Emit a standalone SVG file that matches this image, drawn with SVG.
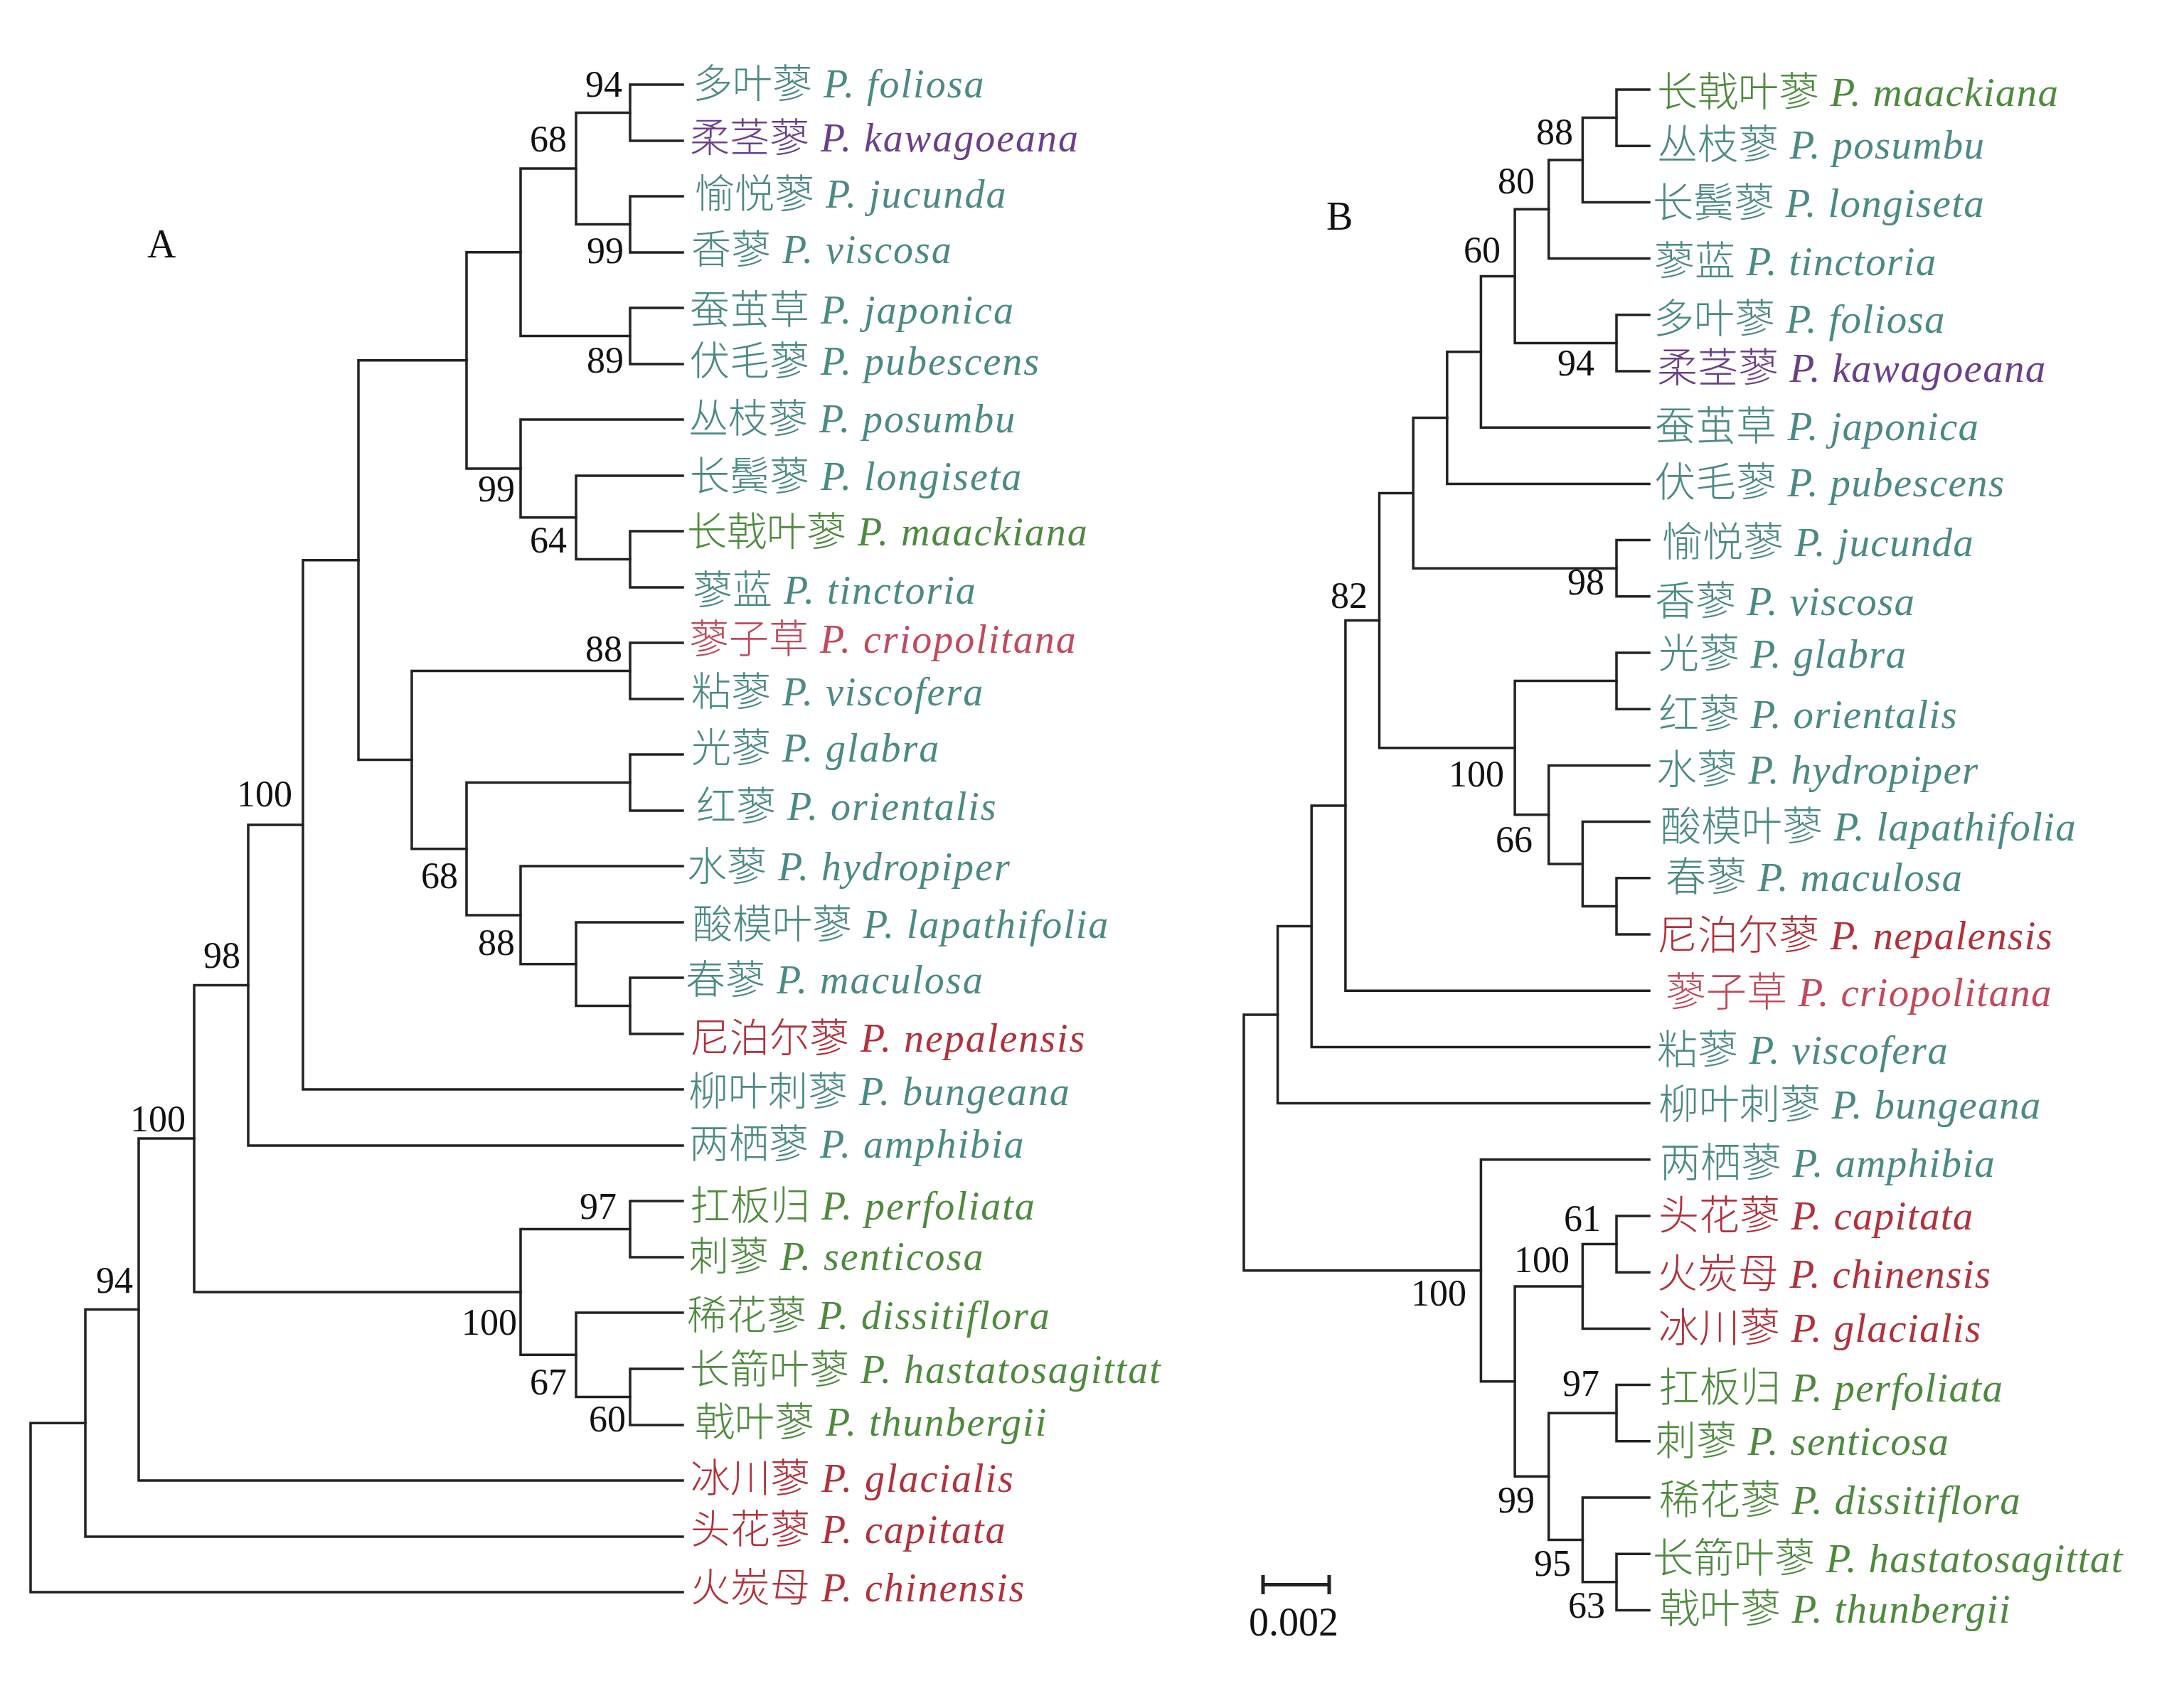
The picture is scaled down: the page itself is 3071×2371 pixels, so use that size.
<svg xmlns="http://www.w3.org/2000/svg" width="3071" height="2371" viewBox="0 0 3071 2371">
<style>
.bg{fill:#ffffff}
.edge{fill:none;stroke:#222222;stroke-width:3.5;stroke-linecap:square}
.sb{fill:none;stroke:#222222;stroke-width:5}
.lab{font-size:56px}
.labB{font-size:57px}
.zh{font-family:"Noto Sans CJK SC","Noto Sans CJK TC",sans-serif;font-weight:300}
.la{font-family:"Liberation Serif","Times New Roman",serif;font-style:italic}
.lab .la{letter-spacing:2px}
.labB .la{letter-spacing:1.3px}
.bs{font-family:"Liberation Serif","Times New Roman",serif;font-size:52px;fill:#111111;text-anchor:end}
.tt{font-family:"Liberation Serif","Times New Roman",serif;font-size:56px;fill:#111111}
.t{fill:#4b8a84}
.g{fill:#4e8a3e}
.p{fill:#6c3f8b}
.r{fill:#b0323c}
.c{fill:#c04a5c}
</style>
<rect class="bg" x="0" y="0" width="3071" height="2371"/>

<!-- ===== Tree A ===== -->
<g id="treeA">
<text class="tt" x="207" y="362">A</text>
<g id="edgesA">
<path class="edge" d="M960 119 H886 V198 H960"/>
<path class="edge" d="M960 276 H886 V355 H960"/>
<path class="edge" d="M886 158.5 H810 V315.5 H886"/>
<path class="edge" d="M960 433 H886 V512 H960"/>
<path class="edge" d="M810 237 H732 V472.5 H886"/>
<path class="edge" d="M960 747 H886 V826 H960"/>
<path class="edge" d="M960 669 H810 V786.5 H886"/>
<path class="edge" d="M960 590 H732 V727.8 H810"/>
<path class="edge" d="M732 354.8 H656 V658.9 H732"/>
<path class="edge" d="M960 904 H886 V983 H960"/>
<path class="edge" d="M960 1061 H886 V1140 H960"/>
<path class="edge" d="M960 1375 H886 V1454 H960"/>
<path class="edge" d="M960 1297 H810 V1414.5 H886"/>
<path class="edge" d="M960 1218 H732 V1355.8 H810"/>
<path class="edge" d="M886 1100.5 H656 V1286.9 H732"/>
<path class="edge" d="M886 943.5 H579 V1193.7 H656"/>
<path class="edge" d="M656 506.8 H504 V1068.6 H579"/>
<path class="edge" d="M504 787.7 H426 V1532 H960"/>
<path class="edge" d="M426 1159.9 H349 V1611 H960"/>
<path class="edge" d="M960 1689 H886 V1768 H960"/>
<path class="edge" d="M960 1925 H886 V2004 H960"/>
<path class="edge" d="M960 1846 H810 V1964.5 H886"/>
<path class="edge" d="M886 1728.5 H732 V1905.3 H810"/>
<path class="edge" d="M349 1385.4 H273 V1816.9 H732"/>
<path class="edge" d="M273 1601.1 H195 V2082 H960"/>
<path class="edge" d="M195 1841.6 H120 V2161 H960"/>
<path class="edge" d="M120 2001.3 H43 V2239 H960"/>
</g>
<g id="supportA">
<g id="A-n1"><text class="bs" x="875" y="136">94</text></g>
<g id="A-n3"><text class="bs" x="797" y="213">68</text></g>
<g id="A-n2"><text class="bs" x="877" y="370">99</text></g>
<g id="A-n4"><text class="bs" x="877" y="524">89</text></g>
<g id="A-n8"><text class="bs" x="724" y="705">99</text></g>
<g id="A-n7"><text class="bs" x="797" y="777">64</text></g>
<g id="A-n10"><text class="bs" x="875" y="930">88</text></g>
<g id="A-n18"><text class="bs" x="411" y="1134">100</text></g>
<g id="A-n15"><text class="bs" x="644" y="1249">68</text></g>
<g id="A-n14"><text class="bs" x="724" y="1343">88</text></g>
<g id="A-n19"><text class="bs" x="338" y="1361">98</text></g>
<g id="A-n24"><text class="bs" x="261" y="1591">100</text></g>
<g id="A-n20"><text class="bs" x="867" y="1714">97</text></g>
<g id="A-n25"><text class="bs" x="187" y="1818">94</text></g>
<g id="A-n23"><text class="bs" x="727" y="1877">100</text></g>
<g id="A-n22"><text class="bs" x="797" y="1961">67</text></g>
<g id="A-n21"><text class="bs" x="880" y="2013">60</text></g>
</g>
<g id="leavesA">
<g id="A-foliosa"><text class="lab t" x="974" y="137"><tspan class="zh">多叶蓼</tspan><tspan class="la"> P. foliosa</tspan></text></g>
<g id="A-kawagoeana"><text class="lab p" x="970" y="213"><tspan class="zh">柔茎蓼</tspan><tspan class="la"> P. kawagoeana</tspan></text></g>
<g id="A-jucunda"><text class="lab t" x="977" y="292"><tspan class="zh">愉悦蓼</tspan><tspan class="la"> P. jucunda</tspan></text></g>
<g id="A-viscosa"><text class="lab t" x="972" y="370"><tspan class="zh">香蓼</tspan><tspan class="la"> P. viscosa</tspan></text></g>
<g id="A-japonica"><text class="lab t" x="970" y="455"><tspan class="zh">蚕茧草</tspan><tspan class="la"> P. japonica</tspan></text></g>
<g id="A-pubescens"><text class="lab t" x="970" y="527"><tspan class="zh">伏毛蓼</tspan><tspan class="la"> P. pubescens</tspan></text></g>
<g id="A-posumbu"><text class="lab t" x="968" y="608"><tspan class="zh">丛枝蓼</tspan><tspan class="la"> P. posumbu</tspan></text></g>
<g id="A-longiseta"><text class="lab t" x="970" y="689"><tspan class="zh">长鬓蓼</tspan><tspan class="la"> P. longiseta</tspan></text></g>
<g id="A-maackiana"><text class="lab g" x="966" y="767"><tspan class="zh">长戟叶蓼</tspan><tspan class="la"> P. maackiana</tspan></text></g>
<g id="A-tinctoria"><text class="lab t" x="974" y="849"><tspan class="zh">蓼蓝</tspan><tspan class="la"> P. tinctoria</tspan></text></g>
<g id="A-criopolitana"><text class="lab c" x="969" y="918"><tspan class="zh">蓼子草</tspan><tspan class="la"> P. criopolitana</tspan></text></g>
<g id="A-viscofera"><text class="lab t" x="972" y="992"><tspan class="zh">粘蓼</tspan><tspan class="la"> P. viscofera</tspan></text></g>
<g id="A-glabra"><text class="lab t" x="972" y="1071"><tspan class="zh">光蓼</tspan><tspan class="la"> P. glabra</tspan></text></g>
<g id="A-orientalis"><text class="lab t" x="979" y="1153"><tspan class="zh">红蓼</tspan><tspan class="la"> P. orientalis</tspan></text></g>
<g id="A-hydropiper"><text class="lab t" x="966" y="1238"><tspan class="zh">水蓼</tspan><tspan class="la"> P. hydropiper</tspan></text></g>
<g id="A-lapathifolia"><text class="lab t" x="974" y="1319"><tspan class="zh">酸模叶蓼</tspan><tspan class="la"> P. lapathifolia</tspan></text></g>
<g id="A-maculosa"><text class="lab t" x="964" y="1397"><tspan class="zh">春蓼</tspan><tspan class="la"> P. maculosa</tspan></text></g>
<g id="A-nepalensis"><text class="lab r" x="970" y="1479"><tspan class="zh">尼泊尔蓼</tspan><tspan class="la"> P. nepalensis</tspan></text></g>
<g id="A-bungeana"><text class="lab t" x="968" y="1554"><tspan class="zh">柳叶刺蓼</tspan><tspan class="la"> P. bungeana</tspan></text></g>
<g id="A-amphibia"><text class="lab t" x="969" y="1628"><tspan class="zh">两栖蓼</tspan><tspan class="la"> P. amphibia</tspan></text></g>
<g id="A-perfoliata"><text class="lab g" x="971" y="1715"><tspan class="zh">扛板归</tspan><tspan class="la"> P. perfoliata</tspan></text></g>
<g id="A-senticosa"><text class="lab g" x="969" y="1786"><tspan class="zh">刺蓼</tspan><tspan class="la"> P. senticosa</tspan></text></g>
<g id="A-dissitiflora"><text class="lab g" x="966" y="1869"><tspan class="zh">稀花蓼</tspan><tspan class="la"> P. dissitiflora</tspan></text></g>
<g id="A-hastatosagittat"><text class="lab g" x="970" y="1945"><tspan class="zh">长箭叶蓼</tspan><tspan class="la"> P. hastatosagittat</tspan></text></g>
<g id="A-thunbergii"><text class="lab g" x="977" y="2019"><tspan class="zh">戟叶蓼</tspan><tspan class="la"> P. thunbergii</tspan></text></g>
<g id="A-glacialis"><text class="lab r" x="971" y="2098"><tspan class="zh">冰川蓼</tspan><tspan class="la"> P. glacialis</tspan></text></g>
<g id="A-capitata"><text class="lab r" x="971" y="2170"><tspan class="zh">头花蓼</tspan><tspan class="la"> P. capitata</tspan></text></g>
<g id="A-chinensis"><text class="lab r" x="971" y="2252"><tspan class="zh">火炭母</tspan><tspan class="la"> P. chinensis</tspan></text></g>
</g>
</g>

<!-- ===== Tree B ===== -->
<g id="treeB">
<text class="tt" x="1865" y="323">B</text>
<g id="edgesB">
<path class="edge" d="M2319 126 H2273 V205.2 H2319"/>
<path class="edge" d="M2273 165.6 H2225.4 V284.4 H2319"/>
<path class="edge" d="M2225.4 225 H2177.7 V363.6 H2319"/>
<path class="edge" d="M2319 442.8 H2273 V522 H2319"/>
<path class="edge" d="M2177.7 294.3 H2130.1 V482.4 H2273"/>
<path class="edge" d="M2130.1 388.4 H2082.4 V601.2 H2319"/>
<path class="edge" d="M2082.4 494.8 H2034.8 V680.4 H2319"/>
<path class="edge" d="M2319 759.6 H2273 V838.8 H2319"/>
<path class="edge" d="M2034.8 587.6 H1987.2 V799.2 H2273"/>
<path class="edge" d="M2319 918 H2273 V997.2 H2319"/>
<path class="edge" d="M2319 1234.8 H2273 V1314 H2319"/>
<path class="edge" d="M2319 1155.6 H2225.4 V1274.4 H2273"/>
<path class="edge" d="M2319 1076.4 H2177.7 V1215 H2225.4"/>
<path class="edge" d="M2273 957.6 H2130.1 V1145.7 H2177.7"/>
<path class="edge" d="M1987.2 693.4 H1939.5 V1051.7 H2130.1"/>
<path class="edge" d="M1939.5 872.5 H1891.9 V1393.2 H2319"/>
<path class="edge" d="M1891.9 1132.9 H1844.2 V1472.4 H2319"/>
<path class="edge" d="M1844.2 1302.6 H1796.6 V1551.6 H2319"/>
<path class="edge" d="M2319 1710 H2273 V1789.2 H2319"/>
<path class="edge" d="M2273 1749.6 H2225.4 V1868.4 H2319"/>
<path class="edge" d="M2319 1947.6 H2273 V2026.8 H2319"/>
<path class="edge" d="M2319 2185.2 H2273 V2264.4 H2319"/>
<path class="edge" d="M2319 2106 H2225.4 V2224.8 H2273"/>
<path class="edge" d="M2273 1987.2 H2177.7 V2165.4 H2225.4"/>
<path class="edge" d="M2225.4 1809 H2130.1 V2076.3 H2177.7"/>
<path class="edge" d="M2319 1630.8 H2082.4 V1942.7 H2130.1"/>
<path class="edge" d="M1796.6 1427.1 H1749 V1786.7 H2082.4"/>
</g>
<g id="supportB">
<g id="B-n2"><text class="bs" x="2212" y="203">88</text></g>
<g id="B-n3"><text class="bs" x="2158" y="272">80</text></g>
<g id="B-n5"><text class="bs" x="2110" y="369">60</text></g>
<g id="B-n4"><text class="bs" x="2242" y="528">94</text></g>
<g id="B-n8"><text class="bs" x="2256" y="836">98</text></g>
<g id="B-n16"><text class="bs" x="1923" y="855">82</text></g>
<g id="B-n14"><text class="bs" x="2115" y="1106">100</text></g>
<g id="B-n13"><text class="bs" x="2155" y="1198">66</text></g>
<g id="B-n19"><text class="bs" x="2251" y="1731">61</text></g>
<g id="B-n20"><text class="bs" x="2207" y="1789">100</text></g>
<g id="B-n26"><text class="bs" x="2062" y="1836">100</text></g>
<g id="B-n21"><text class="bs" x="2249" y="1963">97</text></g>
<g id="B-n25"><text class="bs" x="2158" y="2127">99</text></g>
<g id="B-n23"><text class="bs" x="2209" y="2216">95</text></g>
<g id="B-n22"><text class="bs" x="2257" y="2275">63</text></g>
</g>
<g id="leavesB">
<g id="B-maackiana"><text class="labB g" x="2330" y="149"><tspan class="zh">长戟叶蓼</tspan><tspan class="la"> P. maackiana</tspan></text></g>
<g id="B-posumbu"><text class="labB t" x="2330" y="223"><tspan class="zh">丛枝蓼</tspan><tspan class="la"> P. posumbu</tspan></text></g>
<g id="B-longiseta"><text class="labB t" x="2324" y="305"><tspan class="zh">长鬓蓼</tspan><tspan class="la"> P. longiseta</tspan></text></g>
<g id="B-tinctoria"><text class="labB t" x="2326" y="387"><tspan class="zh">蓼蓝</tspan><tspan class="la"> P. tinctoria</tspan></text></g>
<g id="B-foliosa"><text class="labB t" x="2325" y="468"><tspan class="zh">多叶蓼</tspan><tspan class="la"> P. foliosa</tspan></text></g>
<g id="B-kawagoeana"><text class="labB p" x="2330" y="537"><tspan class="zh">柔茎蓼</tspan><tspan class="la"> P. kawagoeana</tspan></text></g>
<g id="B-japonica"><text class="labB t" x="2327" y="619"><tspan class="zh">蚕茧草</tspan><tspan class="la"> P. japonica</tspan></text></g>
<g id="B-pubescens"><text class="labB t" x="2327" y="698"><tspan class="zh">伏毛蓼</tspan><tspan class="la"> P. pubescens</tspan></text></g>
<g id="B-jucunda"><text class="labB t" x="2337" y="782"><tspan class="zh">愉悦蓼</tspan><tspan class="la"> P. jucunda</tspan></text></g>
<g id="B-viscosa"><text class="labB t" x="2327" y="865"><tspan class="zh">香蓼</tspan><tspan class="la"> P. viscosa</tspan></text></g>
<g id="B-glabra"><text class="labB t" x="2332" y="939"><tspan class="zh">光蓼</tspan><tspan class="la"> P. glabra</tspan></text></g>
<g id="B-orientalis"><text class="labB t" x="2332" y="1024"><tspan class="zh">红蓼</tspan><tspan class="la"> P. orientalis</tspan></text></g>
<g id="B-hydropiper"><text class="labB t" x="2329" y="1102"><tspan class="zh">水蓼</tspan><tspan class="la"> P. hydropiper</tspan></text></g>
<g id="B-lapathifolia"><text class="labB t" x="2335" y="1182"><tspan class="zh">酸模叶蓼</tspan><tspan class="la"> P. lapathifolia</tspan></text></g>
<g id="B-maculosa"><text class="labB t" x="2342" y="1253"><tspan class="zh">春蓼</tspan><tspan class="la"> P. maculosa</tspan></text></g>
<g id="B-nepalensis"><text class="labB r" x="2330" y="1335"><tspan class="zh">尼泊尔蓼</tspan><tspan class="la"> P. nepalensis</tspan></text></g>
<g id="B-criopolitana"><text class="labB c" x="2342" y="1415"><tspan class="zh">蓼子草</tspan><tspan class="la"> P. criopolitana</tspan></text></g>
<g id="B-viscofera"><text class="labB t" x="2330" y="1496"><tspan class="zh">粘蓼</tspan><tspan class="la"> P. viscofera</tspan></text></g>
<g id="B-bungeana"><text class="labB t" x="2332" y="1573"><tspan class="zh">柳叶刺蓼</tspan><tspan class="la"> P. bungeana</tspan></text></g>
<g id="B-amphibia"><text class="labB t" x="2334" y="1655"><tspan class="zh">两栖蓼</tspan><tspan class="la"> P. amphibia</tspan></text></g>
<g id="B-capitata"><text class="labB r" x="2332" y="1729"><tspan class="zh">头花蓼</tspan><tspan class="la"> P. capitata</tspan></text></g>
<g id="B-chinensis"><text class="labB r" x="2330" y="1811"><tspan class="zh">火炭母</tspan><tspan class="la"> P. chinensis</tspan></text></g>
<g id="B-glacialis"><text class="labB r" x="2332" y="1887"><tspan class="zh">冰川蓼</tspan><tspan class="la"> P. glacialis</tspan></text></g>
<g id="B-perfoliata"><text class="labB g" x="2333" y="1971"><tspan class="zh">扛板归</tspan><tspan class="la"> P. perfoliata</tspan></text></g>
<g id="B-senticosa"><text class="labB g" x="2328" y="2046"><tspan class="zh">刺蓼</tspan><tspan class="la"> P. senticosa</tspan></text></g>
<g id="B-dissitiflora"><text class="labB g" x="2333" y="2129"><tspan class="zh">稀花蓼</tspan><tspan class="la"> P. dissitiflora</tspan></text></g>
<g id="B-hastatosagittat"><text class="labB g" x="2324" y="2211"><tspan class="zh">长箭叶蓼</tspan><tspan class="la"> P. hastatosagittat</tspan></text></g>
<g id="B-thunbergii"><text class="labB g" x="2333" y="2282"><tspan class="zh">戟叶蓼</tspan><tspan class="la"> P. thunbergii</tspan></text></g>
</g>
<g id="scalebar">
<path class="sb" d="M1776 2228.6 H1869 M1776 2215 V2242 M1869 2215 V2242"/>
<text class="tt" x="1756" y="2300">0.002</text>
</g>
</g>
</svg>
